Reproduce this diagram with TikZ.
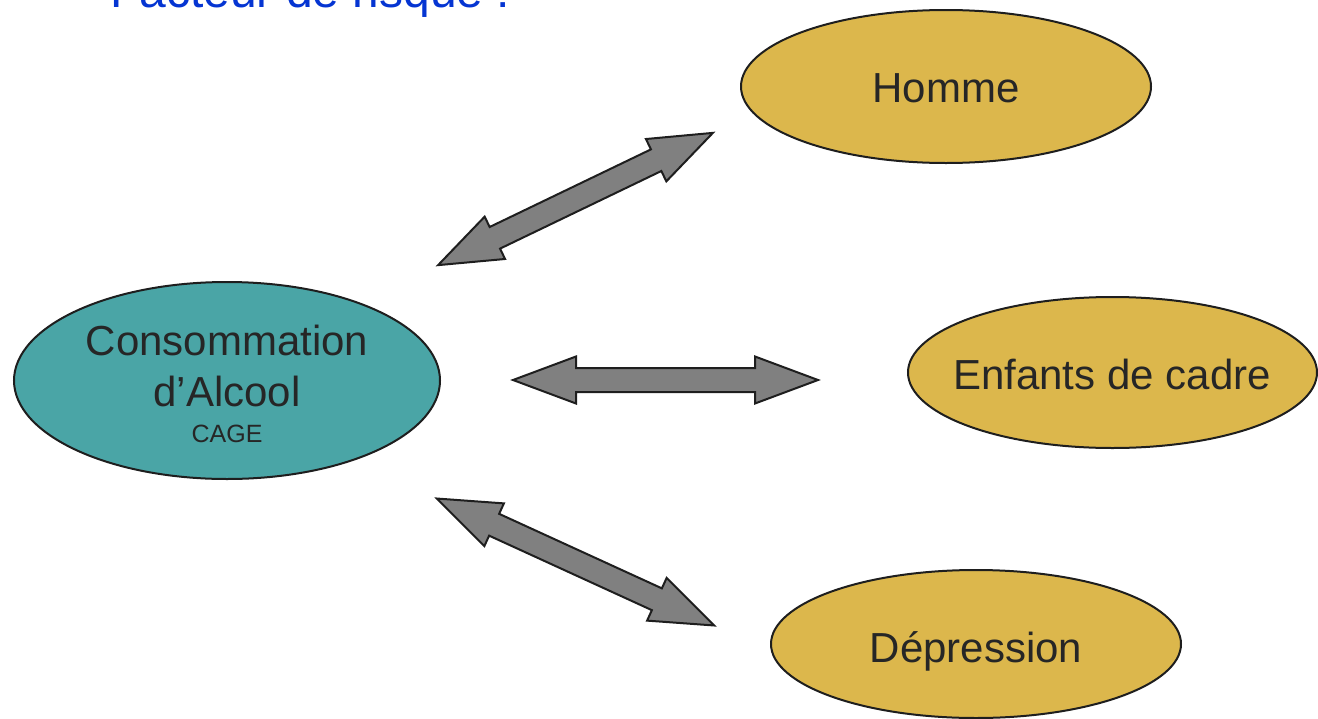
\documentclass[tikz,border=0pt]{standalone}
\usepackage{fontspec}
\setmainfont{Liberation Sans}
\usetikzlibrary{shapes.geometric}
\definecolor{gold}{HTML}{DCB74C}
\definecolor{tealc}{HTML}{4AA5A6}
\definecolor{ink}{HTML}{262626}
\definecolor{edge}{HTML}{1E1E1E}
\definecolor{arrowgray}{HTML}{808080}
\definecolor{titleblue}{HTML}{0535D2}
\tikzset{
  ell/.style={ellipse, draw=edge, line width=2pt, inner sep=0pt},
  goldell/.style={ell, fill=gold},
  bigtxt/.style={text=ink, inner sep=0pt, anchor=base, font=\fontsize{42}{50}\selectfont},
  smalltxt/.style={text=ink, inner sep=0pt, anchor=base, font=\fontsize{25}{30}\selectfont},
  blockarrow/.style={draw=edge, fill=arrowgray, line width=2pt, line join=miter},
  dblarrow/.pic={
    \draw[blockarrow] (-152.5,0) -- (-89.5,23.5) -- (-89.5,12) -- (89.5,12)
      -- (89.5,23.5) -- (152.5,0) -- (89.5,-23.5) -- (89.5,-12)
      -- (-89.5,-12) -- (-89.5,-23.5) -- cycle;
  }
}
\begin{document}
\begin{tikzpicture}[x=1pt,y=-1pt]
\useasboundingbox (0,0) rectangle (1318,718);
% title (cut off at the top)
\node[text=titleblue, inner sep=0pt, anchor=base west, font=\fontsize{48}{56}\selectfont] (title) at (110,7) {Facteur de risque :};
% ellipses
\node[ell, fill=tealc, minimum width=426pt, minimum height=197pt] (cons) at (227,380.5) {};
\node[bigtxt] (consA) at (227,355) {Consommation};
\node[bigtxt] (consB) at (227,406) {d’Alcool};
\node[smalltxt] (cage) at (227,442) {CAGE};
\node[goldell, minimum width=410pt, minimum height=153pt] (homme) at (946,86.5) {};
\node[bigtxt] (hommeT) at (946,102) {Homme};
\node[goldell, minimum width=409pt, minimum height=151pt] (enf) at (1112.5,372.5) {};
\node[bigtxt] (enfT) at (1112,389) {Enfants de cadre};
\node[goldell, minimum width=410pt, minimum height=148pt] (dep) at (976,644) {};
\node[bigtxt] (depT) at (976,662) {Dépression};
% block arrows
\coordinate (a1) at (575.5,199);
\coordinate (a2) at (665.5,380);
\coordinate (a3) at (575.5,562);
\pic[rotate=25.7] at (a1) {dblarrow};
\pic at (a2) {dblarrow};
\pic[rotate=-24.6] at (a3) {dblarrow};
\end{tikzpicture}
\end{document}
